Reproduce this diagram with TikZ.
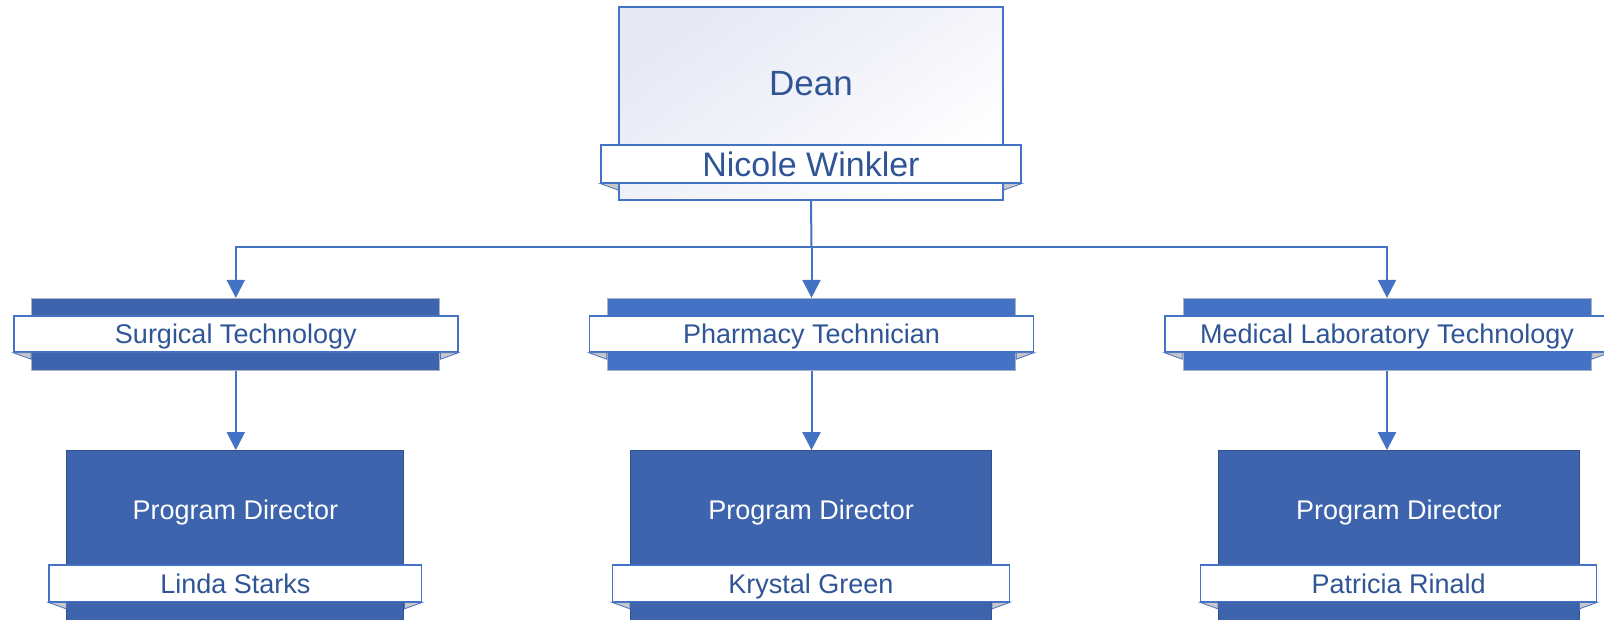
\documentclass[tikz,border=0pt]{standalone}
\usepackage{fontspec}
\setmainfont{Liberation Sans}
\usetikzlibrary{arrows.meta}

\begin{document}
\begin{tikzpicture}[x=1pt, y=-1pt,
  deanBox/.style={draw=lineColor, line width=1.6pt, inner sep=0pt,
    top color=deanShade, bottom color=white, shading angle=35}, % Shaded box for the dean
  bar/.style={draw=barEdge, line width=0.8pt, inner sep=0pt, minimum height=72.4}, % Department bar
  pdBox/.style={draw=pdEdge, line width=1.2pt, fill=darkBlue, inner sep=0pt, minimum height=180}, % Director box
  banner/.style={draw=lineColor, line width=1.4pt, fill=white, inner sep=0pt,
    text=textBlue, text height=19.7pt, text depth=0pt, font=\fontsize{27}{32}\selectfont}, % White ribbon with a name
  pdText/.style={text=white, yshift=28.4pt, font=\fontsize{27}{32}\selectfont}, % Role in director box
  conn/.style={draw=lineColor, line width=2pt}, % Connector
  tip/.style={-{Triangle[width=18pt,length=18pt]}} % Arrow head
]

% Define colors for styling
\definecolor{lineColor}{RGB}{68,114,196}   % Lines and borders
\definecolor{darkBlue}{RGB}{61,100,173}    % Dark fill
\definecolor{midBlue}{RGB}{68,114,196}     % Lighter fill
\definecolor{barEdge}{RGB}{170,178,195}    % Thin edge of bars
\definecolor{pdEdge}{RGB}{47,82,143}       % Edge of director boxes
\definecolor{textBlue}{RGB}{47,85,151}     % Text in ribbons
\definecolor{deanShade}{RGB}{230,232,244}  % Light tint of dean box
\definecolor{foldColor}{RGB}{200,200,200}  % Folded ribbon ends

\useasboundingbox (0,0) rectangle (1604,620);
\clip (0,0) rectangle (1604,620);

% Dean
\node[deanBox, minimum width=384, minimum height=193,
  label={[yshift=19.7pt, text=textBlue, font=\fontsize{35}{40}\selectfont]center:Dean}]
  (dean) at (811,103.7) {};

% Departments
\node[bar, fill=darkBlue, minimum width=408] (surgBar) at (235.8,334.5) {};
\node[bar, fill=midBlue, minimum width=408] (pharmBar) at (811.5,334.5) {};
\node[bar, fill=midBlue, minimum width=408] (medBar) at (1387,334.5) {};

% Program directors
\node[pdBox, minimum width=337, label={[pdText]center:Program Director}] (surgPD) at (235.3,540.7) {};
\node[pdBox, minimum width=361, label={[pdText]center:Program Director}] (pharmPD) at (811.2,540.7) {};
\node[pdBox, minimum width=361, label={[pdText]center:Program Director}] (medPD) at (1398.8,540.7) {};

% Ribbons
\node[banner, minimum width=420, minimum height=37.7, text height=24.8pt, font=\fontsize{34}{40}\selectfont]
  (deanName) at (811,164) {Nicole Winkler};
\node[banner, minimum width=444, minimum height=36] (surgLabel) at (235.8,334) {Surgical Technology};
\node[banner, minimum width=444, minimum height=36] (pharmLabel) at (811.5,334) {Pharmacy Technician};
\node[banner, minimum width=444, minimum height=36] (medLabel) at (1387,334) {Medical Laboratory Technology};
\node[banner, minimum width=372.7, minimum height=36.7] (surgName) at (235.3,583.3) {Linda Starks};
\node[banner, minimum width=396.6, minimum height=36.7] (pharmName) at (811,583.3) {Krystal Green};
\node[banner, minimum width=396, minimum height=36.7] (medName) at (1398.7,583.3) {Patricia Rinald};

% Folded ends under each ribbon
\foreach \n in {deanName,surgLabel,pharmLabel,medLabel,surgName,pharmName,medName}{
  \filldraw[fill=foldColor, draw=lineColor, line width=0.8pt]
    (\n.south west) -- ++(18,0) -- ++(0,6.5) -- cycle;
  \filldraw[fill=foldColor, draw=lineColor, line width=0.8pt]
    (\n.south east) -- ++(-18,0) -- ++(0,6.5) -- cycle;
}

% Connectors
\coordinate (split) at (811.5,247.5);
\draw[conn] (dean.south) -- (split);
\draw[conn, tip] (split) -| (surgBar.north);
\draw[conn, tip] (split) -- (pharmBar.north);
\draw[conn, tip] (split) -| (medBar.north);
\draw[conn, tip] (surgBar.south) -- (surgBar.south |- surgPD.north);
\draw[conn, tip] (pharmBar.south) -- (pharmBar.south |- pharmPD.north);
\draw[conn, tip] (medBar.south) -- (medBar.south |- medPD.north);

\end{tikzpicture}
\end{document}
